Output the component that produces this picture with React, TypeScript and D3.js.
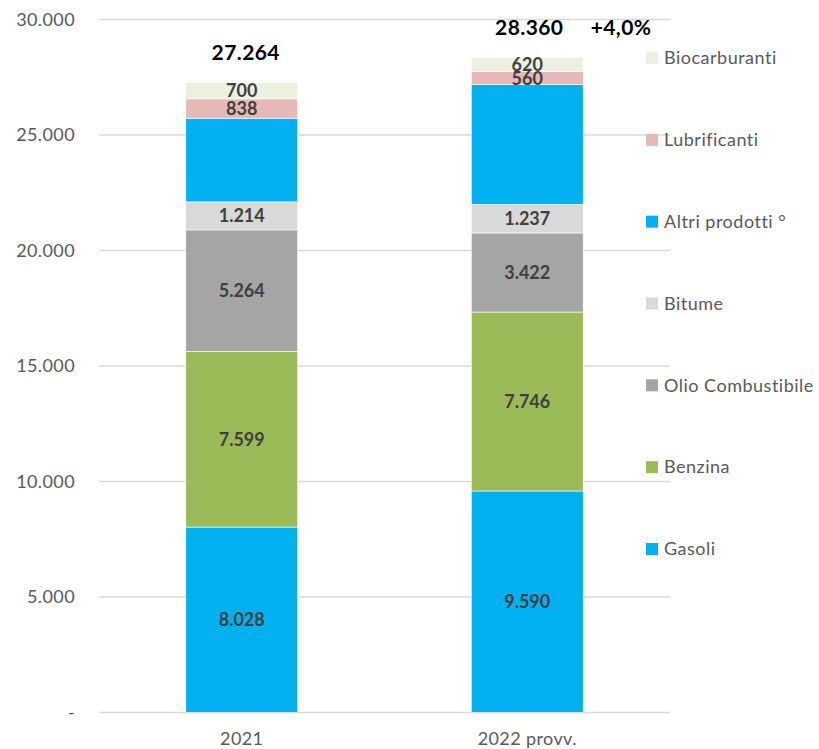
import React from "react";
import * as d3 from "d3";

const categories = ["2021", "2022 provv."];
const seriesNames = ["Gasoli", "Benzina", "Olio Combustibile", "Bitume", "Altri prodotti °", "Lubrificanti", "Biocarburanti"];
const seriesColors = ["#00B0F0", "#9BBB59", "#A5A5A5", "#D9D9D9", "#00B0F0", "#E6B9B8", "#EBF1DE"];
const gasoli = [8028, 9590];
const benzina = [7599, 7746];
const olio = [5264, 3422];
const bitume = [1214, 1237];
const altri = [3621, 5185];
const lubrificanti = [838, 560];
const biocarburanti = [700, 620];
const showLabel = [true, true, true, true, false, true, true];
const totals = [27264, 28360];
const changeLabel = "+4,0%";
const yTicks = [0, 5000, 10000, 15000, 20000, 25000, 30000];

const seriesValues = [gasoli, benzina, olio, bitume, altri, lubrificanti, biocarburanti];

const loc = d3.formatLocale({ decimal: ",", thousands: ".", grouping: [3], currency: ["", "€"] });
const fmt = loc.format(",d");

export default function App() {
  const W = 819, H = 749;
  const left = 99, right = 670, top = 19.5, bottom = 712.5;
  const x = d3.scaleBand().domain(categories).range([left, right]).paddingInner(0.608).paddingOuter(0.304);
  const y = d3.scaleLinear().domain([0, 30000]).range([bottom, top]);
  const font = "Lato, 'Open Sans', sans-serif";

  const rows = categories.map((c, i) => {
    const r: any = { cat: c };
    seriesNames.forEach((s, k) => (r[s] = seriesValues[k][i]));
    return r;
  });
  const stacked = d3.stack().keys(seriesNames)(rows);

  const legendY = d3.scalePoint().domain([...seriesNames].reverse()).range([58, 549]);

  return (
    <svg width={W} height={H} style={{ position: "absolute", left: 0, top: 0 }}>
      <rect width={W} height={H} fill="#fff" />
      {yTicks.map((t) => (
        <g key={t}>
          <line x1={left} x2={right} y1={y(t)} y2={y(t)} stroke="#D9D9D9" strokeWidth={1.3} />
          <text x={75} y={y(t)} dy="0.35em" textAnchor="end" fontFamily={font} fontSize={18} letterSpacing={0.4} fill="#595959">
            {t === 0 ? "-" : fmt(t)}
          </text>
        </g>
      ))}
      {stacked.map((layer, k) =>
        layer.map((d, i) => (
          <rect
            key={`${k}-${i}`}
            x={x(categories[i])!}
            width={x.bandwidth()}
            y={y(d[1])}
            height={y(d[0]) - y(d[1])}
            fill={seriesColors[k]}
            stroke="#fff"
            strokeWidth={0.6}
          />
        ))
      )}
      {stacked.map((layer, k) =>
        showLabel[k]
          ? layer.map((d, i) => (
              <text
                key={`l${k}-${i}`}
                x={x(categories[i])! + x.bandwidth() / 2}
                y={(y(d[0]) + y(d[1])) / 2}
                dy="0.36em"
                textAnchor="middle"
                fontFamily={font}
                fontWeight="bold"
                fontSize={18}
                fill="#404040"
              >
                {fmt(seriesValues[k][i])}
              </text>
            ))
          : null
      )}
      {totals.map((t, i) => (
        <text
          key={`t${i}`}
          x={x(categories[i])! + x.bandwidth() / 2 + (i === 1 ? 2 : 4)}
          y={y(t) - 30}
          dy="0.36em"
          textAnchor="middle"
          fontFamily={font}
          fontWeight="bold"
          fontSize={21}
          letterSpacing={0.4}
          fill="#000"
        >
          {fmt(t)}
        </text>
      ))}
      <text
        x={621}
        y={y(totals[1]) - 30}
        dy="0.36em"
        textAnchor="middle"
        fontFamily={font}
        fontWeight="bold"
        fontSize={21}
        letterSpacing={0.4}
        fill="#000"
      >
        {changeLabel}
      </text>
      {categories.map((c) => (
        <text key={c} x={x(c)! + x.bandwidth() / 2} y={739} dy="0.35em" textAnchor="middle" fontFamily={font} fontSize={18} letterSpacing={0.4} fill="#595959">
          {c}
        </text>
      ))}
      {seriesNames.map((s, k) => (
        <g key={s} transform={`translate(646,${legendY(s)})`}>
          <rect x={0} y={-6} width={12} height={12} fill={seriesColors[k]} />
          <text x={18} y={0} dy="0.35em" fontFamily={font} fontSize={18} letterSpacing={0.5} fill="#595959">
            {s}
          </text>
        </g>
      ))}
    </svg>
  );
}
